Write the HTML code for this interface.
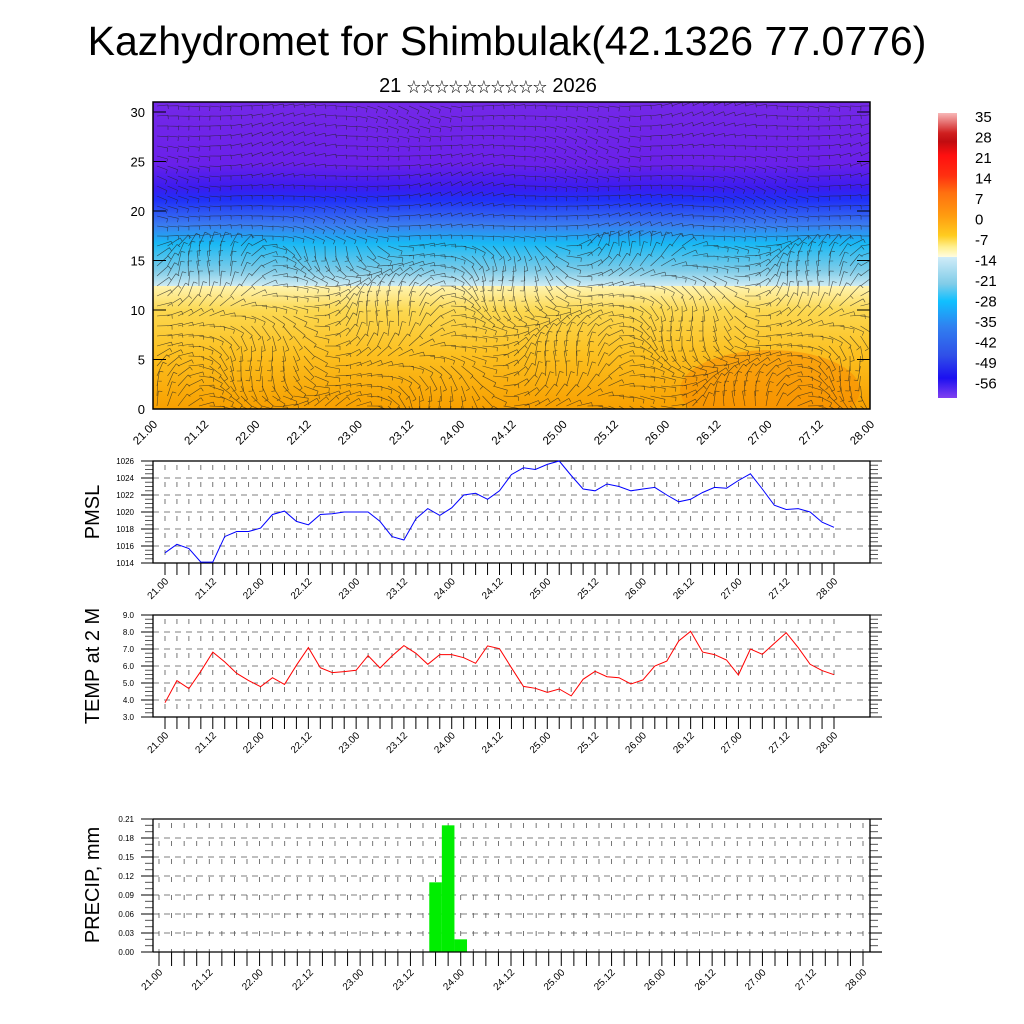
<!DOCTYPE html>
<html><head><meta charset="utf-8"><style>
html,body{margin:0;padding:0;background:#fff;width:1024px;height:1024px;overflow:hidden}
svg{display:block;font-family:"Liberation Sans","Noto Sans CJK JP",sans-serif}
</style></head><body>
<svg id="chart" width="1024" height="1024" viewBox="0 0 1024 1024" xmlns="http://www.w3.org/2000/svg">
<text x="507" y="55" font-size="41" text-anchor="middle">Kazhydromet for Shimbulak(42.1326 77.0776)</text>
<text x="488" y="92" font-size="20" text-anchor="middle">21 <tspan font-size="14">☆☆☆☆☆☆☆☆☆☆</tspan> 2026</text>
<defs>
<linearGradient id="tg" x1="0" y1="0" x2="0" y2="1">
<stop offset="0" stop-color="#7428e8"/><stop offset="0.2" stop-color="#6a20ea"/>
<stop offset="0.28" stop-color="#3a1cf0"/><stop offset="0.32" stop-color="#2030f8"/>
<stop offset="0.4" stop-color="#3a7cf0"/><stop offset="0.46" stop-color="#18b8f4"/>
<stop offset="0.55" stop-color="#80cce8"/><stop offset="0.6" stop-color="#d0ecf4"/>
<stop offset="0.6" stop-color="#fff4b0"/><stop offset="0.68" stop-color="#fcd850"/>
<stop offset="0.82" stop-color="#fcc020"/><stop offset="1" stop-color="#f8a000"/>
</linearGradient>
<linearGradient id="cb" x1="0" y1="0" x2="0" y2="1">
<stop offset="0" stop-color="#f8b8b8"/><stop offset="0.07" stop-color="#d02020"/>
<stop offset="0.1" stop-color="#c00c10"/><stop offset="0.15" stop-color="#ff1010"/>
<stop offset="0.22" stop-color="#ff3010"/><stop offset="0.28" stop-color="#ff7010"/>
<stop offset="0.36" stop-color="#ff9c10"/><stop offset="0.43" stop-color="#ffcc20"/>
<stop offset="0.47" stop-color="#fff090"/><stop offset="0.505" stop-color="#fffce0"/>
<stop offset="0.505" stop-color="#d0ecf8"/><stop offset="0.6" stop-color="#80cce8"/>
<stop offset="0.66" stop-color="#10c0ff"/><stop offset="0.75" stop-color="#3080f0"/>
<stop offset="0.85" stop-color="#3050e8"/><stop offset="0.93" stop-color="#1c10f0"/>
<stop offset="1" stop-color="#8040f0"/>
</linearGradient>
<clipPath id="tc"><rect x="153" y="102" width="717" height="307"/></clipPath>
</defs>
<g id="topPanel"></g>
<g id="pm"></g>
<g id="tp"></g>
<g id="pr"></g>
<g id="cbg"></g>
</svg>
<script>
const pmslValues=[1015.2,1016.2,1015.7,1014.1,1014.1,1017.1,1017.7,1017.7,1018.1,1019.7,1020.1,1018.9,1018.5,1019.7,1019.8,1020.0,1020.0,1020.0,1018.9,1017.1,1016.7,1019.2,1020.4,1019.6,1020.5,1022.0,1022.2,1021.5,1022.5,1024.4,1025.2,1025.0,1025.6,1026.0,1024.3,1022.7,1022.5,1023.3,1023.0,1022.5,1022.7,1022.9,1022.0,1021.2,1021.5,1022.3,1022.9,1022.8,1023.7,1024.5,1022.7,1020.8,1020.3,1020.4,1020.0,1018.8,1018.2];
const tempValues=[3.84,5.14,4.67,5.69,6.82,6.24,5.57,5.14,4.78,5.31,4.92,6.04,7.08,5.90,5.61,5.67,5.75,6.61,5.88,6.59,7.20,6.75,6.10,6.67,6.67,6.49,6.16,7.18,7.02,5.90,4.80,4.69,4.45,4.65,4.24,5.22,5.69,5.37,5.31,4.94,5.18,6.00,6.29,7.47,8.04,6.82,6.67,6.35,5.47,7.0,6.69,7.33,7.96,7.08,6.10,5.73,5.49];
const precipIndex=[22,23,24];
const precipValues=[0.11,0.2,0.02];
const timeLabels=["21.00","21.12","22.00","22.12","23.00","23.12","24.00","24.12","25.00","25.12","26.00","26.12","27.00","27.12","28.00"];
const heightTicks=[0,5,10,15,20,25,30];
const pmslTicks=[1014,1016,1018,1020,1022,1024,1026];
const tempTicks=[3.0,4.0,5.0,6.0,7.0,8.0,9.0];
const precipTicks=[0,0.03,0.06,0.09,0.12,0.15,0.18,0.21];
const cbLabels=["35","28","21","14","7","0","-7","-14","-21","-28","-35","-42","-49","-56"];

const NS="http://www.w3.org/2000/svg";
function mk(p,t,a,txt){const e=document.createElementNS(NS,t);for(const k in a)e.setAttribute(k,a[k]);if(txt!==undefined)e.textContent=txt;p.appendChild(e);return e;}

const topG=document.getElementById('topPanel');
const ty=h=>409-h*9.9;
const bg=mk(topG,'rect',{x:153,y:102,width:717,height:307,fill:'url(#tg)'});


const blob=mk(topG,'ellipse',{cx:770,cy:390,rx:90,ry:40,fill:'#f88800',opacity:0.5,'clip-path':'url(#tc)'});


const bg2=mk(topG,'g',{'clip-path':'url(#tc)',stroke:'#222',"stroke-width":0.6,opacity:0.75});


let d='';
for(let gx=157;gx<870;gx+=10.5){for(let gy=106;gy<409;gy+=10){
 const h=(409-gy)/307;
 let a=Math.sin(gx*0.031+gy*0.017)*0.6+Math.cos(gx*0.011-gy*0.043)*0.5;
 if(h>0.55)a*=0.4; else a*=1.6;
 const L=h>0.55?11:15;
 const c=Math.cos(a),s=Math.sin(a);
 const x2=gx+L*c,y2=gy+L*s;
 d+=`M${gx.toFixed(1)},${gy.toFixed(1)}L${x2.toFixed(1)},${y2.toFixed(1)}`;
 d+=`M${x2.toFixed(1)},${y2.toFixed(1)}l${(-4*s).toFixed(1)},${(4*c).toFixed(1)}`;
}}
mk(bg2,'path',{d:d,fill:'none'});
mk(topG,'rect',{x:153,y:102,width:717,height:307,fill:'none',stroke:'#000','stroke-width':1.5});
heightTicks.forEach(v=>{const y=ty(v);
 mk(topG,'line',{x1:153,y1:y,x2:166,y2:y,stroke:'#000'});
 mk(topG,'line',{x1:857,y1:y,x2:870,y2:y,stroke:'#000'});
 const t=mk(topG,'text',{x:145,y:y+5,'font-size':13,'text-anchor':'end'},v);
 
 
});
timeLabels.forEach((l,i)=>{const x=153+i*717/14;
 const t=mk(topG,'text',{x:x+5,y:425,'font-size':11.5,'text-anchor':'end',transform:`rotate(-45 ${x+5} 425)`},l);
 
 
});

function linePanel(gid,y0,y1,ticks,vals,color,title,fmt,name){
 const g=document.getElementById(gid);
 const lo=ticks[0],hi=ticks[ticks.length-1];
 const X=i=>165+i*(669/56), Y=v=>y1-(v-lo)/(hi-lo)*(y1-y0);
 for(let i=0;i<57;i++){const x=X(i);
  mk(g,'line',{x1:x,y1:y0+4,x2:x,y2:y1,stroke:'#555','stroke-width':0.8,'stroke-dasharray':'5,12'});
  mk(g,'line',{x1:x,y1:y1,x2:x,y2:y1+12,stroke:'#000','stroke-width':1});}
 ticks.forEach((v,k)=>{const y=Y(v);
  if(k>0&&k<ticks.length-1)mk(g,'line',{x1:153,y1:y,x2:870,y2:y,stroke:'#555','stroke-width':0.8,'stroke-dasharray':'6,5'});
  mk(g,'line',{x1:141,y1:y,x2:153,y2:y,stroke:'#000'});
  mk(g,'line',{x1:870,y1:y,x2:882,y2:y,stroke:'#000'});
  if(k<ticks.length-1)for(let m=1;m<4;m++){const ym=y-m*(y1-y0)/(ticks.length-1)/4;
   mk(g,'line',{x1:145,y1:ym,x2:153,y2:ym,stroke:'#555'});mk(g,'line',{x1:870,y1:ym,x2:878,y2:ym,stroke:'#555'});}
  const t=mk(g,'text',{x:134,y:y+3,'font-size':8,'text-anchor':'end'},fmt(v));
  
  
 });
 mk(g,'rect',{x:153,y:y0,width:717,height:y1-y0,fill:'none',stroke:'#000','stroke-width':1.3});
 const line=mk(g,'polyline',{points:vals.map((v,i)=>X(i).toFixed(1)+','+Y(v).toFixed(1)).join(' '),fill:'none',stroke:color,'stroke-width':1});
 
 
 timeLabels.forEach((l,i)=>{const x=X(i*4)+4,y=y1+19;
  const t=mk(g,'text',{x:x,y:y,'font-size':10,'text-anchor':'end',transform:`rotate(-45 ${x} ${y})`},l);
  
  });
 const cy=(y0+y1)/2;
 const tt=mk(g,'text',{x:99,y:cy,'font-size':20,'text-anchor':'middle',transform:`rotate(-90 99 ${cy})`},title);
 
 
}
linePanel('pm',461,563,pmslTicks,pmslValues,'#0000ff','PMSL',v=>String(v),'pmsl');
linePanel('tp',615,717,tempTicks,tempValues,'#ff0000','TEMP at 2 M',v=>v.toFixed(1),'temp');

(function(){
 const g=document.getElementById('pr');
 const y0=819,y1=952,lo=0,hi=0.21;
 const X=i=>159+i*(704/56), Y=v=>y1-(v-lo)/(hi-lo)*(y1-y0);
 for(let i=0;i<57;i++){const x=X(i);
  mk(g,'line',{x1:x,y1:y0+4,x2:x,y2:y1,stroke:'#555','stroke-width':0.8,'stroke-dasharray':'5,13'});
  mk(g,'line',{x1:x,y1:y1,x2:x,y2:y1+14,stroke:'#000'});}
 precipTicks.forEach((v,k)=>{const y=Y(v);
  if(k>0&&k<precipTicks.length-1)mk(g,'line',{x1:153,y1:y,x2:882,y2:y,stroke:'#555','stroke-width':0.8,'stroke-dasharray':'6,5'});
  mk(g,'line',{x1:141,y1:y,x2:153,y2:y,stroke:'#000'});
  mk(g,'line',{x1:870,y1:y,x2:882,y2:y,stroke:'#000'});
  if(k<precipTicks.length-1)for(let m=1;m<3;m++){const ym=y-m*(y1-y0)/7/3;
   mk(g,'line',{x1:145,y1:ym,x2:153,y2:ym,stroke:'#555'});mk(g,'line',{x1:870,y1:ym,x2:878,y2:ym,stroke:'#555'});}
  const t=mk(g,'text',{x:134,y:y+3,'font-size':8,'text-anchor':'end'},v.toFixed(2));
  
  });
 precipValues.forEach((v,k)=>{const x=X(precipIndex[k])-6.3;
  const b=mk(g,'rect',{x:x,y:Y(v),width:12.6,height:y1-Y(v),fill:'#00ee00'});
  
  });
 mk(g,'line',{x1:153,y1:y0,x2:882,y2:y0,stroke:'#000','stroke-width':1.3});
 mk(g,'line',{x1:153,y1:y1,x2:882,y2:y1,stroke:'#000','stroke-width':1.3});
 mk(g,'line',{x1:153,y1:y0,x2:153,y2:y1,stroke:'#000','stroke-width':1.3});
 mk(g,'line',{x1:870,y1:y0,x2:870,y2:y1,stroke:'#000','stroke-width':1.3});
 timeLabels.forEach((l,i)=>{const x=X(i*4)+4,y=y1+21;
  const t=mk(g,'text',{x:x,y:y,'font-size':10,'text-anchor':'end',transform:`rotate(-45 ${x} ${y})`},l);
  
  });
 const cy=885;
 const tt=mk(g,'text',{x:99,y:cy,'font-size':20,'text-anchor':'middle',transform:`rotate(-90 99 ${cy})`},'PRECIP, mm');
 
 
})();

(function(){
 const g=document.getElementById('cbg');
 mk(g,'rect',{x:938,y:113,width:19,height:285,fill:'url(#cb)'});
 cbLabels.forEach((l,i)=>{const t=mk(g,'text',{x:975,y:122+i*20.5,'font-size':15},l);
  
  });
})();
</script>
</body></html>
